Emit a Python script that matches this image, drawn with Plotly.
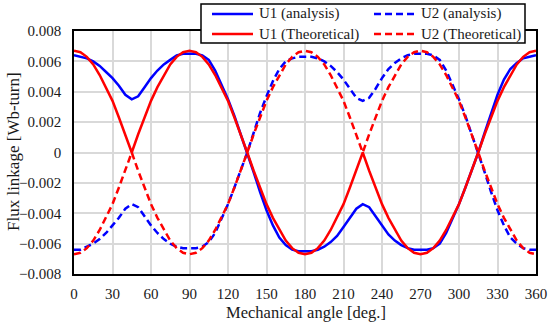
import plotly.graph_objects as go

angle_deg = list(range(0, 361, 5))

u1_analysis = [
    0.0064, 0.0063, 0.0062, 0.0060, 0.0057, 0.0053, 0.0049, 0.0044, 0.0038, 0.0035,
    0.0037, 0.0043, 0.0049, 0.0054, 0.0058, 0.0061, 0.0064, 0.0065, 0.0065, 0.0065,
    0.0064, 0.0061, 0.0054, 0.0045, 0.0035, 0.0024, 0.0012, 0.0000,
    -0.0013, -0.0026, -0.0038, -0.0048, -0.0056, -0.0061, -0.0064, -0.0065, -0.0065,
    -0.0065, -0.0064, -0.0062, -0.0059, -0.0055, -0.0049, -0.0043, -0.0037, -0.0034,
    -0.0036, -0.0042, -0.0048, -0.0054, -0.0058, -0.0061, -0.0063, -0.0064, -0.0064,
    -0.0064, -0.0063, -0.0060, -0.0053, -0.0044, -0.0034, -0.0023, -0.0012, 0.0000,
    0.0013, 0.0026, 0.0038, 0.0048, 0.0055, 0.0059, 0.0062, 0.0063, 0.0064,
]

u2_analysis = [
    -0.0064, -0.0064, -0.0062, -0.0060, -0.0057, -0.0053, -0.0048, -0.0043, -0.0037, -0.0034,
    -0.0036, -0.0042, -0.0048, -0.0053, -0.0057, -0.0060, -0.0062, -0.0063, -0.0063, -0.0063,
    -0.0062, -0.0059, -0.0053, -0.0044, -0.0034, -0.0023, -0.0012, 0.0000,
    0.0013, 0.0026, 0.0037, 0.0047, 0.0055, 0.0060, 0.0062, 0.0063, 0.0063,
    0.0063, 0.0062, 0.0060, 0.0057, 0.0053, 0.0048, 0.0042, 0.0036, 0.0034,
    0.0036, 0.0042, 0.0049, 0.0055, 0.0059, 0.0062, 0.0064, 0.0065, 0.0065,
    0.0065, 0.0064, 0.0061, 0.0054, 0.0045, 0.0035, 0.0024, 0.0012, 0.0000,
    -0.0013, -0.0026, -0.0038, -0.0048, -0.0056, -0.0060, -0.0063, -0.0064, -0.0064,
]

u1_theoretical = [
    0.0067, 0.0066, 0.0063, 0.0058, 0.0051, 0.0043, 0.0034, 0.0023, 0.0012, 0.0000,
    0.0012, 0.0023, 0.0034, 0.0043, 0.0051, 0.0058, 0.0063, 0.0066, 0.0067,
    0.0066, 0.0063, 0.0058, 0.0051, 0.0043, 0.0034, 0.0023, 0.0012, 0.0000,
    -0.0012, -0.0023, -0.0034, -0.0043, -0.0051, -0.0058, -0.0063, -0.0066, -0.0067,
    -0.0066, -0.0063, -0.0058, -0.0051, -0.0043, -0.0034, -0.0023, -0.0012, 0.0000,
    -0.0012, -0.0023, -0.0034, -0.0043, -0.0051, -0.0058, -0.0063, -0.0066, -0.0067,
    -0.0066, -0.0063, -0.0058, -0.0051, -0.0043, -0.0034, -0.0023, -0.0012, 0.0000,
    0.0012, 0.0023, 0.0034, 0.0043, 0.0051, 0.0058, 0.0063, 0.0066, 0.0067,
]

u2_theoretical = [
    -0.0067, -0.0066, -0.0063, -0.0058, -0.0051, -0.0043, -0.0034, -0.0023, -0.0012, 0.0000,
    -0.0012, -0.0023, -0.0034, -0.0043, -0.0051, -0.0058, -0.0063, -0.0066, -0.0067,
    -0.0066, -0.0063, -0.0058, -0.0051, -0.0043, -0.0034, -0.0023, -0.0012, 0.0000,
    0.0012, 0.0023, 0.0034, 0.0043, 0.0051, 0.0058, 0.0063, 0.0066, 0.0067,
    0.0066, 0.0063, 0.0058, 0.0051, 0.0043, 0.0034, 0.0023, 0.0012, 0.0000,
    0.0012, 0.0023, 0.0034, 0.0043, 0.0051, 0.0058, 0.0063, 0.0066, 0.0067,
    0.0066, 0.0063, 0.0058, 0.0051, 0.0043, 0.0034, 0.0023, 0.0012, 0.0000,
    -0.0012, -0.0023, -0.0034, -0.0043, -0.0051, -0.0058, -0.0063, -0.0066, -0.0067,
]

series_names = ["U1 (analysis)", "U2 (analysis)", "U1 (Theoretical)", "U2 (Theoretical)"]
x_ticks = list(range(0, 361, 30))
y_ticks = [0.008, 0.006, 0.004, 0.002, 0, -0.002, -0.004, -0.006, -0.008]
y_tick_text = ["0.008", "0.006", "0.004", "0.002", "0",
               "\u22120.002", "\u22120.004", "\u22120.006", "\u22120.008"]
x_title = "Mechanical angle [deg.]"
y_title = "Flux linkage [Wb-turn]"

FONT = "Liberation Serif, Times New Roman, serif"
TEXT = "#1a1a1a"
DASH = "7px,4px"

W, H = 550, 326
ML, MR, MT, MB = 74, 14, 31, 52
PW, PH = W - ML - MR, H - MT - MB


def px(xp):
    return (xp - ML) / PW


def py(yp):
    return (H - MB - yp) / PH


fig = go.Figure()
styles = [("#0000FF", "solid"), ("#0000FF", DASH), ("#FF0000", "solid"), ("#FF0000", DASH)]
for name, vals, (color, dash) in zip(series_names,
                                     [u1_analysis, u2_analysis, u1_theoretical, u2_theoretical],
                                     styles):
    fig.add_trace(go.Scatter(
        x=angle_deg, y=vals, name=name, mode="lines",
        line=dict(color=color, width=2.5, dash=dash),
        showlegend=False, hoverinfo="skip",
    ))

# Manual legend (box, line samples, labels)
shapes = [dict(type="rect", xref="paper", yref="paper",
               x0=px(201), x1=px(525), y0=py(43), y1=py(4),
               fillcolor="white", line=dict(color="black", width=1.5), layer="above")]
annotations = []
legend_pos = [(212, 14), (374, 14), (212, 34), (374, 34)]
for name, (color, dash), (lx, ly) in zip(series_names, styles, legend_pos):
    shapes.append(dict(type="line", xref="paper", yref="paper",
                       x0=px(lx), x1=px(lx + 41), y0=py(ly), y1=py(ly),
                       line=dict(color=color, width=2.5, dash=dash), layer="above"))
    annotations.append(dict(text=name, xref="paper", yref="paper",
                            x=px(lx + 45), y=py(ly), xanchor="left", yanchor="middle",
                            showarrow=False, font=dict(family=FONT, size=15, color=TEXT)))

annotations.append(dict(text=x_title, xref="paper", yref="paper",
                        x=px(306), y=py(312), xanchor="center", yanchor="middle",
                        showarrow=False, font=dict(family=FONT, size=16.5, color=TEXT)))
annotations.append(dict(text=y_title, xref="paper", yref="paper",
                        x=px(13), y=py(152), xanchor="center", yanchor="middle",
                        textangle=-90, showarrow=False,
                        font=dict(family=FONT, size=17, color=TEXT)))

fig.update_layout(
    width=W, height=H,
    margin=dict(l=ML, r=MR, t=MT, b=MB, autoexpand=False),
    paper_bgcolor="white", plot_bgcolor="white",
    font=dict(family=FONT, size=15, color=TEXT),
    showlegend=False,
    hovermode=False,
    shapes=shapes,
    annotations=annotations,
    xaxis=dict(
        range=[0, 360], tickvals=x_ticks, ticktext=[str(v) for v in x_ticks],
        showgrid=True, gridcolor="#d9d9d9", gridwidth=1.5,
        showline=True, linecolor="black", linewidth=1.5, mirror=True,
        zeroline=False, ticks="", ticklabelstandoff=5,
    ),
    yaxis=dict(
        range=[-0.008, 0.008], tickvals=y_ticks, ticktext=y_tick_text,
        showgrid=True, gridcolor="#d9d9d9", gridwidth=1.5,
        showline=True, linecolor="black", linewidth=1.5, mirror=True,
        zeroline=False, ticks="", ticklabelstandoff=8,
    ),
)

fig.write_html("out.html", config={"displayModeBar": False},
               post_script="document.body.style.margin='0';")
